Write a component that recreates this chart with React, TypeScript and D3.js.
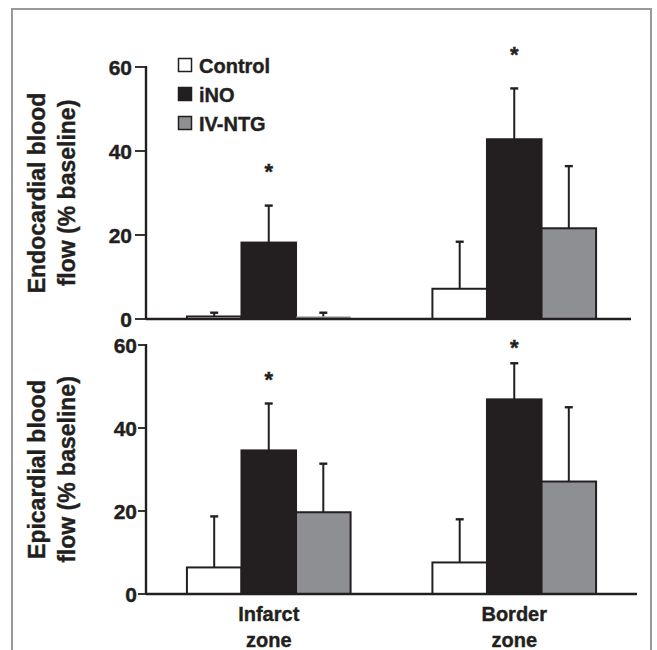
import React, { useRef, useEffect } from 'react';
import * as d3 from 'd3';

// groups along the x axis and the three treatments
const zones = ['Infarct', 'Border'];
const treatments = ['Control', 'iNO', 'IV-NTG'];
const yTicks = [0, 20, 40, 60];

// endocardial blood flow (% baseline): mean and top of error bar per zone
const endoMean = [[0.6, 18.2, 0.6], [7.2, 42.8, 21.6]];
const endoErrTop = [[1.5, 27.0, 1.5], [18.4, 54.9, 36.4]];
const endoStar = [36.2, 64.0];

// epicardial blood flow (% baseline)
const epiMean = [[6.4, 34.6, 19.7], [7.6, 46.9, 27.1]];
const epiErrTop = [[18.7, 45.9, 31.4], [18.0, 55.6, 45.0]];
const epiStar = [52.8, 60.5];

const colors = ['#ffffff', '#231f20', '#8e8f93'];
const font = '"Liberation Sans", Arial, sans-serif';
const ink = '#231f20';

const App = () => {
  const svgRef = useRef<SVGSVGElement>(null);

  useEffect(() => {
    const svg = d3.select(svgRef.current);
    svg.selectAll('*').remove();

    const axisX = 146;

    // bold text with a hair of stroke to match the heavy print face
    const label = (sel: any, size: number) => sel
      .attr('font-family', font).attr('font-weight', 'bold').attr('font-size', size)
      .attr('fill', ink).attr('stroke', ink).attr('stroke-width', 0.4);

    // frame around the figure (bottom edge is cropped)
    svg.append('path')
      .attr('d', 'M12,650V9H651V650')
      .attr('fill', 'none')
      .attr('stroke', '#999')
      .attr('stroke-width', 2);

    const x0 = d3.scaleBand().domain(zones).range([axisX, 637]).paddingInner(0).paddingOuter(0);
    const x1 = d3.scaleBand().domain(treatments).range([0, x0.bandwidth()]).paddingOuter(0.75);

    const panels = [
      { mean: endoMean, err: endoErrTop, star: endoStar, top: 67, bottom: 319, xEnd: 631, tickLen: 11, labelGap: 14, label: ['Endocardial blood', 'flow (% baseline)'] },
      { mean: epiMean, err: epiErrTop, star: epiStar, top: 345, bottom: 594, xEnd: 637, tickLen: 8, labelGap: 9, label: ['Epicardial blood', 'flow (% baseline)'] },
    ];

    panels.forEach(p => {
      const y = d3.scaleLinear().domain([0, 60]).range([p.bottom, p.top]);
      const g = svg.append('g');

      // y axis
      g.append('line')
        .attr('x1', axisX).attr('x2', axisX)
        .attr('y1', y(60) - 1).attr('y2', y(0))
        .attr('stroke', ink).attr('stroke-width', 2.4);
      yTicks.forEach(t => {
        g.append('line')
          .attr('x1', axisX - p.tickLen).attr('x2', axisX)
          .attr('y1', y(t)).attr('y2', y(t))
          .attr('stroke', ink).attr('stroke-width', 1.8);
        g.append('text')
          .attr('x', axisX - p.labelGap).attr('y', y(t) + 7.5)
          .attr('text-anchor', 'end')
          .call(label, 21)
          .text(t);
      });

      // y label, two lines
      const lab = g.append('g').attr('transform', `translate(0,${(p.top + p.bottom) / 2}) rotate(-90)`);
      p.label.forEach((line, i) => {
        lab.append('text')
          .attr('x', 0).attr('y', 45 + i * 30)
          .attr('text-anchor', 'middle')
          .call(label, 23)
          .text(line);
      });

      zones.forEach((z, zi) => {
        treatments.forEach((t, ti) => {
          const bx = x0(z)! + x1(t)!;
          const cx = bx + x1.bandwidth() / 2;
          const v = p.mean[zi][ti];
          // error bar (upper only)
          g.append('line')
            .attr('x1', cx).attr('x2', cx)
            .attr('y1', y(v)).attr('y2', y(p.err[zi][ti]))
            .attr('stroke', ink).attr('stroke-width', 2);
          g.append('line')
            .attr('x1', cx - 4).attr('x2', cx + 4)
            .attr('y1', y(p.err[zi][ti])).attr('y2', y(p.err[zi][ti]))
            .attr('stroke', ink).attr('stroke-width', 2.4);
          g.append('rect')
            .attr('x', bx).attr('y', y(v))
            .attr('width', x1.bandwidth()).attr('height', y(0) - y(v))
            .attr('fill', colors[ti])
            .attr('stroke', ti === 2 && v < 2 ? 'none' : ink)
            .attr('stroke-width', 2);
        });
        // significance marker over iNO
        const sx = x0(z)! + x1('iNO')! + x1.bandwidth() / 2;
        g.append('text')
          .attr('x', sx).attr('y', y(p.star[zi]) + 12)
          .attr('text-anchor', 'middle')
          .call(label, 22)
          .text('*');
      });

      // x axis
      g.append('line')
        .attr('x1', axisX).attr('x2', p.xEnd)
        .attr('y1', y(0)).attr('y2', y(0))
        .attr('stroke', ink).attr('stroke-width', 2.4);
    });

    // category labels under the lower panel
    zones.forEach(z => {
      const cx = x0(z)! + x0.bandwidth() / 2;
      [z, 'zone'].forEach((line, i) => {
        svg.append('text')
          .attr('x', cx).attr('y', 621 + i * 26)
          .attr('text-anchor', 'middle')
          .call(label, 20)
          .text(line);
      });
    });

    // legend
    const legend = svg.append('g').attr('transform', 'translate(178,58)');
    treatments.forEach((t, i) => {
      const row = legend.append('g').attr('transform', `translate(0,${i * 29})`);
      row.append('rect')
        .attr('x', 0.5).attr('y', 0.5).attr('width', 13).attr('height', 13)
        .attr('fill', colors[i])
        .attr('stroke', ink).attr('stroke-width', 1.5);
      row.append('text')
        .attr('x', 21).attr('y', 14.5)
        .call(label, 20)
        .text(t);
    });
  }, []);

  return (
    <svg
      ref={svgRef}
      width={657}
      height={650}
      style={{ position: 'absolute', left: 0, top: 0, background: '#fff' }}
    ></svg>
  );
};

export default App;
